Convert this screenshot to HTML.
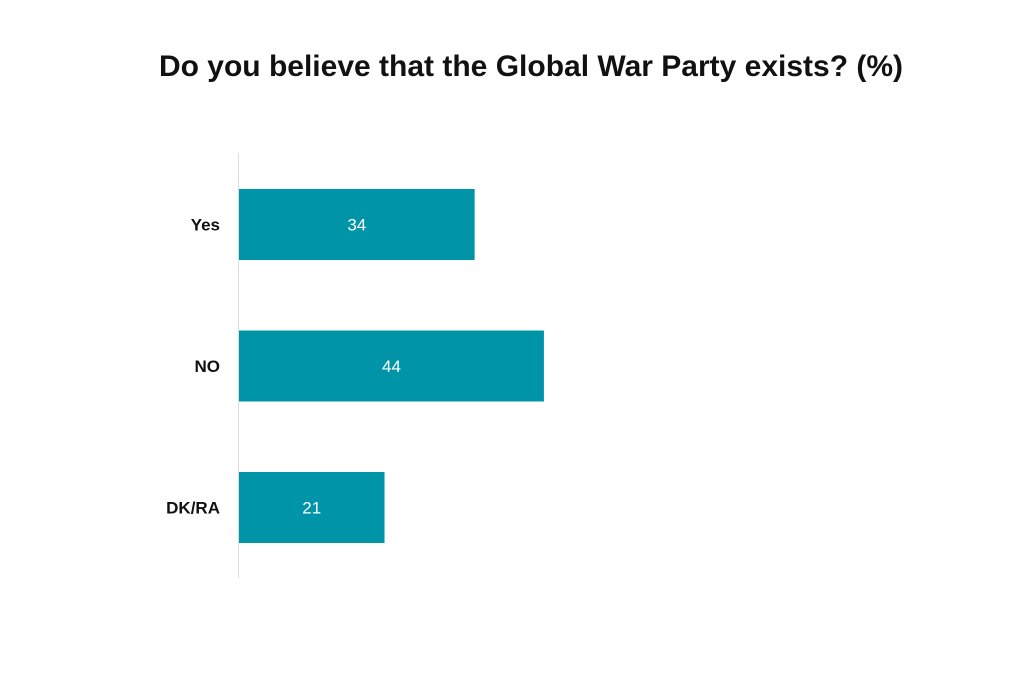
<!DOCTYPE html>
<html><head><meta charset="utf-8"><style>
body{margin:0;background:#fff;width:1024px;height:670px;overflow:hidden;font-family:"Liberation Sans",sans-serif}
</style></head><body>
<svg width="1024" height="670">
<text x="531" y="76" text-anchor="middle" font-size="30" font-weight="bold" fill="#111">Do you believe that the Global War Party exists? (%)</text>
<line x1="238.5" y1="153" x2="238.5" y2="578" stroke="#dddddd" stroke-width="1"/>
<g id="bars"></g>
</svg>
<script>
const categories=["Yes","NO","DK/RA"];
const values=[34,44,21];
const x0=239, pxPerUnit=6.93, rowTop=189, rowStep=141.5, barH=71;
const xScale=v=>x0+v*pxPerUnit;
const g=document.getElementById('bars');
const ns='http://www.w3.org/2000/svg';
categories.forEach((c,i)=>{
  const y=rowTop+i*rowStep;
  const r=document.createElementNS(ns,'rect');
  r.setAttribute('x',x0);r.setAttribute('y',y);
  r.setAttribute('width',xScale(values[i])-x0);r.setAttribute('height',barH);
  r.setAttribute('fill','#0094a8');
  
  
  g.appendChild(r);
  const t=document.createElementNS(ns,'text');
  t.setAttribute('x',(x0+xScale(values[i]))/2);t.setAttribute('y',y+barH/2+6);
  t.setAttribute('text-anchor','middle');t.setAttribute('font-size','17');t.setAttribute('fill','#fff');
  t.textContent=values[i];
  
  
  g.appendChild(t);
  const l=document.createElementNS(ns,'text');
  l.setAttribute('x',220);l.setAttribute('y',y+barH/2+6);
  l.setAttribute('text-anchor','end');l.setAttribute('font-size','17');l.setAttribute('font-weight','bold');l.setAttribute('fill','#111');
  l.textContent=c;
  
  
  g.appendChild(l);
});
</script>
</body></html>
